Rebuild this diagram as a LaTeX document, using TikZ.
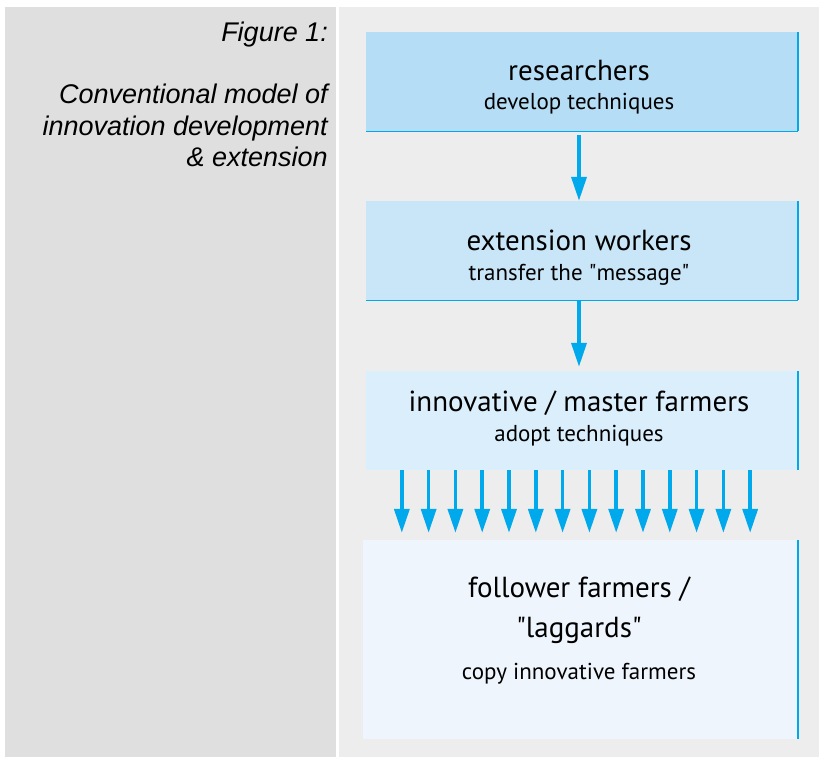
\documentclass[tikz,border=0pt]{standalone}
\usepackage{fontspec}
\setmainfont{PT Sans}
\newfontfamily\capfont{Liberation Sans}
\usetikzlibrary{arrows.meta,calc}

\definecolor{panelL}{HTML}{DFDFDF}
\definecolor{panelR}{HTML}{EDEDED}
\definecolor{arrblue}{HTML}{00A8EC}
\definecolor{boxa}{HTML}{B5DDF5}
\definecolor{boxb}{HTML}{C8E6F8}
\definecolor{boxc}{HTML}{DAEEFB}
\definecolor{boxd}{HTML}{EEF5FC}

\tikzset{
  box/.style={rectangle, inner sep=0pt, minimum width=432pt},
  head/.style={anchor=base, inner sep=0pt, font=\fontsize{29}{32}\selectfont},
  sub/.style={anchor=base, inner sep=0pt, font=\fontsize{23}{26}\selectfont},
  edge/.style={arrblue, line width=2pt},
  rim/.style={arrblue, line width=0.8pt},
  arr/.style={arrblue, line width=3.5pt, -{Triangle[width=15pt,length=24pt]}}
}

\begin{document}
\begin{tikzpicture}[x=1pt,y=-1pt]
		\useasboundingbox (0,0) rectangle (819,757);
		\fill[white] (0,0) rectangle (819,757);
		\fill[panelL] (5,7) rectangle (336,757);
		\fill[panelR] (339,7) rectangle (819,757);
		% caption
		\node[anchor=base east, inner sep=0pt, font=\capfont\itshape\fontsize{27}{31.5}\selectfont] (fig) at (328,42) {Figure 1:};
		\node[anchor=north east, inner sep=0pt, align=right, font=\capfont\itshape\fontsize{27}{31.5}\selectfont] (cap) at (328,84) {Conventional model of\\innovation development\\\& extension};
		% boxes
		\node[box, fill=boxa, minimum height=99pt] (res) at (582,81.5) {};
		\node[box, fill=boxb, minimum height=99pt] (ext) at (582,250.5) {};
		\node[box, fill=boxc, minimum height=99pt] (inn) at (582,420.5) {};
		\node[box, fill=boxd, minimum width=435pt, minimum height=199pt] (fol) at (580.5,639.5) {};
		\foreach \b in {res,ext,inn,fol}
			\draw[edge] (\b.north east) -- (\b.south east);
		\draw[rim] (res.south west) -- (res.south east);
		\draw[rim] (ext.south west) -- (ext.south east);
		% texts
		\node[head] (resh) at (579,81) {researchers};
		\node[sub] (ress) at (579,110) {develop techniques};
		\node[head] (exth) at (579,250) {extension workers};
		\node[sub] (exts) at (579,280) {transfer the \textquotedbl message\textquotedbl};
		\node[head] (innh) at (579,411) {innovative / master farmers};
		\node[sub] (inns) at (579,441) {adopt techniques};
		\node[head] (folh) at (579,597) {follower farmers /};
		\node[head] (foll) at (579,637) {\textquotedbl laggards\textquotedbl};
		\node[sub] (fols) at (579,679) {copy innovative farmers};
		% arrows
		\draw[arr, shorten <=4pt] (res.south -| 579,0) -- (ext.north -| 579,0);
		\draw[arr, shorten >=4pt] (ext.south -| 579,0) -- (inn.north -| 579,0);
		\foreach \i in {0,...,13}{
			\coordinate (t\i) at ($(inn.south west)!{(36+\i*26.77)/432}!(inn.south east)$);
			\draw[arr, shorten >=7pt] (t\i) -- (t\i |- fol.north);
		}
\end{tikzpicture}
\end{document}
